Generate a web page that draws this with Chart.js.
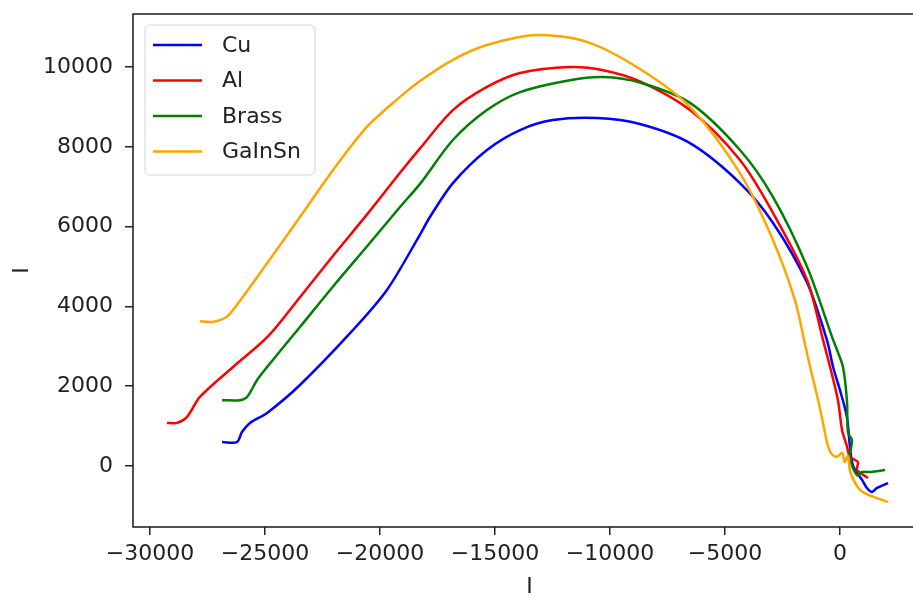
<!DOCTYPE html>
<html>
<head>
<meta charset="utf-8">
<script src="https://cdn.jsdelivr.net/npm/chart.js@4/dist/chart.umd.min.js"></script>
<style>
	html, body { margin: 0; padding: 0; background: #fff; overflow: hidden; }
	#wrap { width: 913px; height: 596px; overflow: hidden; }
</style>
</head>
<body>
<div id="wrap"><canvas id="chart" width="930" height="596"></canvas></div>
<script>
const seriesNames = ["Cu", "Al", "Brass", "GaInSn"]
const seriesColors = ["#0000ff", "#ff0000", "#008000", "#ffa500"]

const xTicks = [-30000, -25000, -20000, -15000, -10000, -5000, 0]
const yTicks = [0, 2000, 4000, 6000, 8000, 10000]

const cuX = [-26870, -26220, -26000, -25650, -24910, -23480, -21170, -19700, -18260, -17830, -16830, -15350, -13910, -12480, -10570, -8700, -6520, -4350, -2910, -1430, -570, -300, 0, 300, 430, 570, 960, 1170, 1390, 1610, 2090]
const cuY = [600, 600, 850, 1080, 1330, 2030, 3410, 4410, 5800, 6240, 7090, 7920, 8420, 8670, 8720, 8570, 8090, 7090, 6090, 4590, 3160, 2480, 1900, 1230, 500, 0, -350, -550, -650, -550, -430]

const alX = [-29260, -28830, -28390, -27830, -26390, -24850, -23480, -22040, -20570, -19130, -18260, -16830, -15350, -13910, -11740, -10300, -8700, -6520, -4350, -2910, -1430, -740, -430, -90, 90, 300, 430, 780, 740, 1170, 1220]
const alY = [1080, 1080, 1230, 1730, 2480, 3260, 4230, 5270, 6300, 7350, 7960, 8920, 9500, 9850, 10000, 9920, 9640, 8920, 7670, 6340, 4660, 3160, 2480, 1650, 900, 500, 230, 100, -100, -280, -300]

const brassX = [-26870, -26090, -25780, -25350, -24910, -23500, -22040, -20570, -19130, -18260, -16830, -15350, -13910, -11740, -10300, -8700, -6520, -4350, -2910, -1430, -300, -130, 130, 300, 350, 520, 430, 740, 960, 1300, 1960]
const brassY = [1650, 1650, 1730, 2150, 2480, 3470, 4500, 5500, 6490, 7070, 8170, 8920, 9370, 9670, 9750, 9610, 9100, 7920, 6740, 4990, 3160, 2910, 2480, 1650, 830, 650, 200, -230, -150, -150, -100]

const gaX = [-27830, -27300, -26740, -26390, -24900, -23480, -22040, -20570, -19130, -18260, -16830, -15350, -13180, -11000, -8700, -6520, -4350, -2910, -1960, -1560, -1300, -950, -650, -570, -400, -150, 100, 200, 350, 450, 870, 1430, 2090]
const gaY = [3630, 3610, 3710, 3910, 5090, 6240, 7420, 8500, 9250, 9650, 10180, 10550, 10800, 10630, 9950, 9000, 7340, 5660, 4160, 3160, 2480, 1650, 830, 600, 330, 230, 330, 100, 250, -150, -600, -770, -900]

function points(xs, ys) {
	return xs.map((x, i) => ({ x: x, y: ys[i] }))
}

const allX = [cuX, alX, brassX, gaX]
const allY = [cuY, alY, brassY, gaY]

const datasets = seriesNames.map((name, i) => ({
	label: name,
	data: points(allX[i], allY[i]),
	borderColor: seriesColors[i],
	backgroundColor: seriesColors[i],
	borderWidth: 2.5,
	pointRadius: 0,
	showLine: true,
	tension: 0.3,
	order: seriesNames.length - i
}))

function tickLabel(value) {
	return value < 0 ? "\u2212" + Math.abs(value) : String(value)
}

// spines: top, left and bottom (the right one falls off the picture)
const framePlugin = {
	id: "frame",
	afterDatasetsDraw(chart) {
		const { ctx, chartArea } = chart
		ctx.save()
		ctx.strokeStyle = "#1a1a1a"
		ctx.lineWidth = 1.5
		ctx.beginPath()
		ctx.moveTo(chartArea.right, chartArea.top)
		ctx.lineTo(chartArea.left, chartArea.top)
		ctx.lineTo(chartArea.left, chartArea.bottom)
		ctx.lineTo(chartArea.right, chartArea.bottom)
		ctx.stroke()
		ctx.restore()
	}
}

// legend in the upper left corner of the plot
const legendPlugin = {
	id: "boxLegend",
	afterDraw(chart) {
		const ctx = chart.ctx
		const x0 = 145, y0 = 25, w = 170, h = 150, r = 5
		ctx.save()
		ctx.beginPath()
		ctx.roundRect(x0, y0, w, h, r)
		ctx.fillStyle = "rgba(255,255,255,0.85)"
		ctx.fill()
		ctx.strokeStyle = "#d4d4d4"
		ctx.lineWidth = 1
		ctx.stroke()
		ctx.font = "22px 'DejaVu Sans'"
		ctx.textBaseline = "middle"
		ctx.fillStyle = "#222"
		chart.data.datasets.forEach((ds, i) => {
			const y = 45 + i * 35.5
			ctx.beginPath()
			ctx.moveTo(153, y)
			ctx.lineTo(202, y)
			ctx.strokeStyle = ds.borderColor
			ctx.lineWidth = 2.5
			ctx.stroke()
			ctx.fillText(ds.label, 222, y + 1)
		})
		ctx.restore()
	}
}

Chart.defaults.font.family = "'DejaVu Sans', sans-serif"
Chart.defaults.font.size = 22
Chart.defaults.color = "#222"

const chart = new Chart(
	document.getElementById("chart"),
	{
		type: "scatter",
		data: { datasets: datasets },
		options: {
			responsive: false,
			animation: false,
			devicePixelRatio: 1,
			layout: { padding: { left: 0, right: 4, top: 14, bottom: 0 } },
			plugins: {
				legend: { display: false },
				tooltip: { enabled: false }
			},
			scales: {
				x: {
					type: "linear",
					min: -30739,
					max: 3739,
					afterBuildTicks: scale => { scale.ticks = xTicks.map(v => ({ value: v })) },
					afterFit: scale => {
						scale.height = 69
						scale.paddingLeft = 0
						scale.paddingRight = 0
					},
					ticks: { callback: tickLabel, padding: 6, maxRotation: 0, color: "#222" },
					grid: { drawOnChartArea: false, drawTicks: true, tickLength: 8, color: "#222", lineWidth: 1.5 },
					border: { display: false },
					title: { display: true, text: "I", padding: { top: 0, bottom: -4 }, color: "#222" }
				},
				y: {
					type: "linear",
					min: -1529,
					max: 11328,
					afterBuildTicks: scale => { scale.ticks = yTicks.map(v => ({ value: v })) },
					afterFit: scale => {
						scale.width = 133
						scale.paddingTop = 0
						scale.paddingBottom = 0
					},
					ticks: { callback: tickLabel, padding: 12, color: "#222" },
					grid: { drawOnChartArea: false, drawTicks: true, tickLength: 8, color: "#222", lineWidth: 1.5 },
					border: { display: false },
					title: { display: true, text: "I", padding: { top: 9, bottom: 0 }, color: "#222" }
				}
			}
		},
		plugins: [framePlugin, legendPlugin]
	}
)
</script>
</body>
</html>
